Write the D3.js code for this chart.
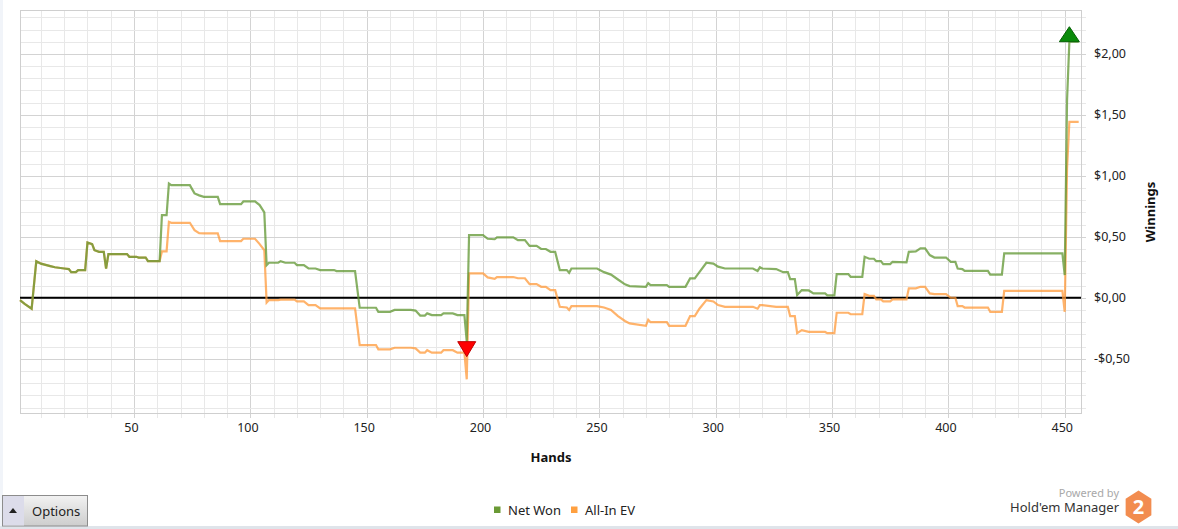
<!DOCTYPE html>
<html>
<head>
<meta charset="utf-8">
<script src="https://cdn.jsdelivr.net/npm/d3@7"></script>
<style>
  html, body { margin: 0; padding: 0; background: #ffffff; }
  svg { display: block; font-family: "Noto Sans", "Open Sans", sans-serif; }
</style>
</head>
<body>
<svg id="chart" width="1178" height="529"></svg>
<script>
// ---------- data ----------
const hands = [1,3,6,8,9,10,14,16,20,22,23,25,26,29,30,32,33,35,37,38,39,47,48,51,52,55,56,61,62,64,65,66,74,76,78,80,86,87,96,97,102,104,106,107,108,112,113,115,119,120,123,125,128,130,136,137,145,147,154,155,160,162,169,171,173,175,176,178,182,183,187,189,192,193,194,200,202,205,206,213,215,218,220,223,225,227,229,231,233,236,237,238,249,252,255,258,261,263,270,271,272,279,280,287,289,291,293,296,299,301,304,316,318,319,320,326,329,331,332,334,335,337,340,342,347,348,351,352,357,358,363,364,366,368,369,371,372,375,376,382,383,386,388,390,392,394,399,401,403,404,406,407,417,418,423,424,449,450,451,452,456];
const netWon = [-0.02,-0.05,-0.09,0.30,0.29,0.28,0.26,0.25,0.24,0.235,0.21,0.21,0.227,0.227,0.454,0.44,0.39,0.377,0.377,0.24,0.358,0.358,0.336,0.336,0.33,0.33,0.30,0.30,0.678,0.678,0.937,0.924,0.924,0.856,0.84,0.828,0.828,0.768,0.768,0.79,0.79,0.76,0.70,0.268,0.287,0.287,0.30,0.287,0.287,0.268,0.268,0.24,0.24,0.227,0.227,0.219,0.219,-0.082,-0.082,-0.115,-0.115,-0.10,-0.10,-0.105,-0.146,-0.146,-0.128,-0.142,-0.142,-0.128,-0.128,-0.142,-0.142,-0.36,0.514,0.514,0.484,0.48,0.495,0.495,0.473,0.473,0.426,0.426,0.40,0.40,0.377,0.377,0.227,0.227,0.205,0.24,0.24,0.21,0.19,0.15,0.11,0.096,0.09,0.12,0.104,0.104,0.09,0.09,0.159,0.159,0.21,0.287,0.28,0.255,0.24,0.24,0.22,0.25,0.24,0.235,0.21,0.21,0.153,0.153,0.022,0.063,0.06,0.036,0.036,0.02,0.02,0.194,0.194,0.172,0.172,0.336,0.32,0.32,0.30,0.30,0.276,0.276,0.295,0.29,0.377,0.38,0.405,0.405,0.35,0.33,0.33,0.295,0.295,0.24,0.235,0.22,0.22,0.19,0.19,0.364,0.364,0.186,1.62,2.10,2.10];
const allInEV = [-0.02,-0.05,-0.09,0.30,0.29,0.28,0.26,0.25,0.24,0.235,0.21,0.21,0.227,0.227,0.454,0.44,0.39,0.377,0.377,0.24,0.358,0.358,0.336,0.336,0.33,0.33,0.30,0.30,0.38,0.38,0.623,0.615,0.615,0.555,0.53,0.528,0.528,0.465,0.465,0.484,0.484,0.44,0.39,-0.04,-0.019,-0.019,-0.015,-0.015,-0.015,-0.03,-0.03,-0.06,-0.06,-0.087,-0.087,-0.087,-0.087,-0.388,-0.388,-0.423,-0.423,-0.41,-0.41,-0.415,-0.45,-0.45,-0.43,-0.45,-0.45,-0.43,-0.43,-0.45,-0.45,-0.669,0.20,0.20,0.167,0.155,0.17,0.17,0.16,0.16,0.112,0.112,0.09,0.09,0.063,0.063,-0.074,-0.08,-0.10,-0.068,-0.068,-0.08,-0.10,-0.15,-0.19,-0.21,-0.23,-0.18,-0.20,-0.20,-0.23,-0.23,-0.15,-0.15,-0.09,-0.019,-0.03,-0.06,-0.074,-0.074,-0.09,-0.06,-0.06,-0.074,-0.074,-0.074,-0.15,-0.15,-0.29,-0.265,-0.28,-0.28,-0.28,-0.29,-0.29,-0.123,-0.123,-0.135,-0.135,0.03,0.016,0.016,-0.013,-0.013,-0.03,-0.03,-0.013,-0.013,0.077,0.077,0.09,0.09,0.036,0.03,0.03,0.0,0.0,-0.068,-0.068,-0.08,-0.08,-0.115,-0.115,0.057,0.057,-0.115,1.06,1.443,1.443];
const xTickValues = [50,100,150,200,250,300,350,400,450];
const yTickValues = [-0.5,0,0.5,1,1.5,2];
const seriesNames = ["Net Won","All-In EV"];
const seriesColors = ["#6a9a35","#ffa040"];

// ---------- layout ----------
const svg = d3.select("#chart");
const plot = {left: 20, right: 1081, top: 10, bottom: 413};
const x = d3.scaleLinear().domain([1, 457]).range([plot.left, plot.right]);
const y = d3.scaleLinear().domain([-0.945, 2.36]).range([plot.bottom, plot.top]);

const fmt = v => (v < 0 ? "-$" : "$") + Math.abs(v).toFixed(2).replace(".", ",");

// faint left edge
svg.append("rect").attr("x",0).attr("y",0).attr("width",3).attr("height",526).attr("fill","#f1f4f9");
// bottom strip
svg.append("rect").attr("x",0).attr("y",526).attr("width",1178).attr("height",3).attr("fill","#dfe4ea");

const grid = svg.append("g");
// minor vertical grid (every 10 hands) with outside ticks
const xMinor = d3.range(10, 457, 10);
grid.selectAll(".vx").data(xMinor).join("line")
  .attr("x1", d => Math.round(x(d)) + 0.5).attr("x2", d => Math.round(x(d)) + 0.5)
  .attr("y1", plot.top).attr("y2", plot.bottom + 5)
  .attr("stroke", d => d % 50 === 0 ? "#d3d3d3" : "#e8e8e8").attr("stroke-width", 1);
// horizontal grid (every 0.1)
const yMinor = d3.range(-9, 24).map(i => i / 10);
grid.selectAll(".hy").data(yMinor).join("line")
  .attr("x1", plot.left).attr("x2", plot.right + 5)
  .attr("y1", d => Math.round(y(d)) + 0.5).attr("y2", d => Math.round(y(d)) + 0.5)
  .attr("stroke", d => Math.abs(Math.round(d*10) % 5) === 0 ? "#d3d3d3" : "#e8e8e8").attr("stroke-width", 1);
// border
svg.append("rect").attr("x", plot.left + 0.5).attr("y", plot.top + 0.5)
  .attr("width", plot.right - plot.left).attr("height", plot.bottom - plot.top)
  .attr("fill", "none").attr("stroke", "#cfcfcf");

// axes (labels only)
const xAxis = d3.axisBottom(x).tickValues(xTickValues).tickSize(0).tickPadding(0).tickFormat(d3.format("d"));
const gx = svg.append("g").attr("transform", `translate(-3,${plot.bottom + 10})`).call(xAxis);
gx.select(".domain").remove();
gx.selectAll("text").attr("font-size", 12.5).attr("fill", "#222").attr("font-family", "Noto Sans, sans-serif");

const yAxis = d3.axisRight(y).tickValues(yTickValues).tickSize(0).tickPadding(0).tickFormat(fmt);
const gy = svg.append("g").attr("transform", `translate(1094,0)`).call(yAxis);
gy.select(".domain").remove();
gy.selectAll("text").attr("font-size", 12.5).attr("fill", "#222").attr("font-family", "Noto Sans, sans-serif");

// axis titles
svg.append("text").attr("x", 551).attr("y", 462).attr("text-anchor", "middle")
  .attr("font-size", 13).attr("font-weight", "bold").attr("fill", "#111").text("Hands");
svg.append("text").attr("transform", "translate(1155,212) rotate(-90)").attr("text-anchor", "middle")
  .attr("font-size", 13).attr("font-weight", "bold").attr("fill", "#111").text("Winnings");

// zero line
svg.append("line").attr("x1", plot.left).attr("x2", plot.right)
  .attr("y1", y(0)).attr("y2", y(0)).attr("stroke", "#000").attr("stroke-width", 2.2);

// series lines
const pts = vals => hands.map((h, i) => [h, vals[i]]);
const line = d3.line().x(d => x(d[0])).y(d => y(d[1]));
svg.append("path").datum(pts(allInEV)).attr("d", line)
  .attr("fill", "none").attr("stroke", "#ff9a3a").attr("stroke-opacity", 0.75).attr("stroke-width", 2.2);
svg.append("path").datum(pts(netWon)).attr("d", line)
  .attr("fill", "none").attr("stroke", "#5f9530").attr("stroke-opacity", 0.75).attr("stroke-width", 2.2);

// min / max markers of Net Won
const iMin = d3.minIndex(netWon), iMax = d3.maxIndex(netWon);
const mx0 = x(hands[iMin]), my0 = y(netWon[iMin]);
svg.append("path").attr("d", `M${mx0-9},${my0}L${mx0+9},${my0}L${mx0},${my0+15}Z`)
  .attr("fill", "#ff0000").attr("stroke", "#c00000").attr("stroke-width", 1);
const mx1 = x(hands[iMax]), my1 = y(netWon[iMax]);
svg.append("path").attr("d", `M${mx1-10},${my1}L${mx1+10},${my1}L${mx1},${my1-15}Z`)
  .attr("fill", "#0a8a0a").attr("stroke", "#046004").attr("stroke-width", 1);

// legend
const legendX = [494, 571];
const lg = svg.append("g");
seriesNames.forEach((name, i) => {
  lg.append("rect").attr("x", legendX[i]).attr("y", 506.5).attr("width", 6.5).attr("height", 6.5).attr("fill", seriesColors[i]);
  lg.append("text").attr("x", legendX[i] + 14).attr("y", 514.5).attr("font-size", 13).attr("fill", "#222").text(name);
});

// Options button
const defs = svg.append("defs");
const gr = defs.append("linearGradient").attr("id", "btn").attr("x1", 0).attr("y1", 0).attr("x2", 0).attr("y2", 1);
gr.append("stop").attr("offset", "0%").attr("stop-color", "#f2f2f2");
gr.append("stop").attr("offset", "100%").attr("stop-color", "#cdcdcd");
svg.append("rect").attr("x", 2.5).attr("y", 495.5).attr("width", 85).attr("height", 30.5)
  .attr("fill", "url(#btn)").attr("stroke", "#8c8c8c");
svg.append("rect").attr("x", 3).attr("y", 496).attr("width", 21).attr("height", 29.5).attr("fill", "#dcdcea");
svg.append("path").attr("d", "M9,513L17,513L13,508Z").attr("fill", "#222");
svg.append("text").attr("x", 32).attr("y", 516).attr("font-size", 13).attr("fill", "#222").text("Options");

// branding
svg.append("text").attr("x", 1119).attr("y", 497).attr("text-anchor", "end")
  .attr("font-size", 11).attr("fill", "#a8a8a8").text("Powered by");
svg.append("text").attr("x", 1119).attr("y", 512).attr("text-anchor", "end")
  .attr("font-size", 13).attr("fill", "#333").text("Hold'em Manager");
const hc = [1138.5, 507], hr = 16.5;
const hex = d3.range(6).map(k => { const a = Math.PI / 3 * k - Math.PI / 2; return [hc[0] + hr * Math.cos(a) * 0.9, hc[1] + hr * Math.sin(a)]; });
svg.append("path").attr("d", "M" + hex.map(p => p.join(",")).join("L") + "Z").attr("fill", "#f28c4f");
svg.append("text").attr("x", hc[0]).attr("y", hc[1] + 7).attr("text-anchor", "middle")
  .attr("font-size", 20).attr("font-weight", "bold").attr("fill", "#fff").text("2");
</script>
</body>
</html>
